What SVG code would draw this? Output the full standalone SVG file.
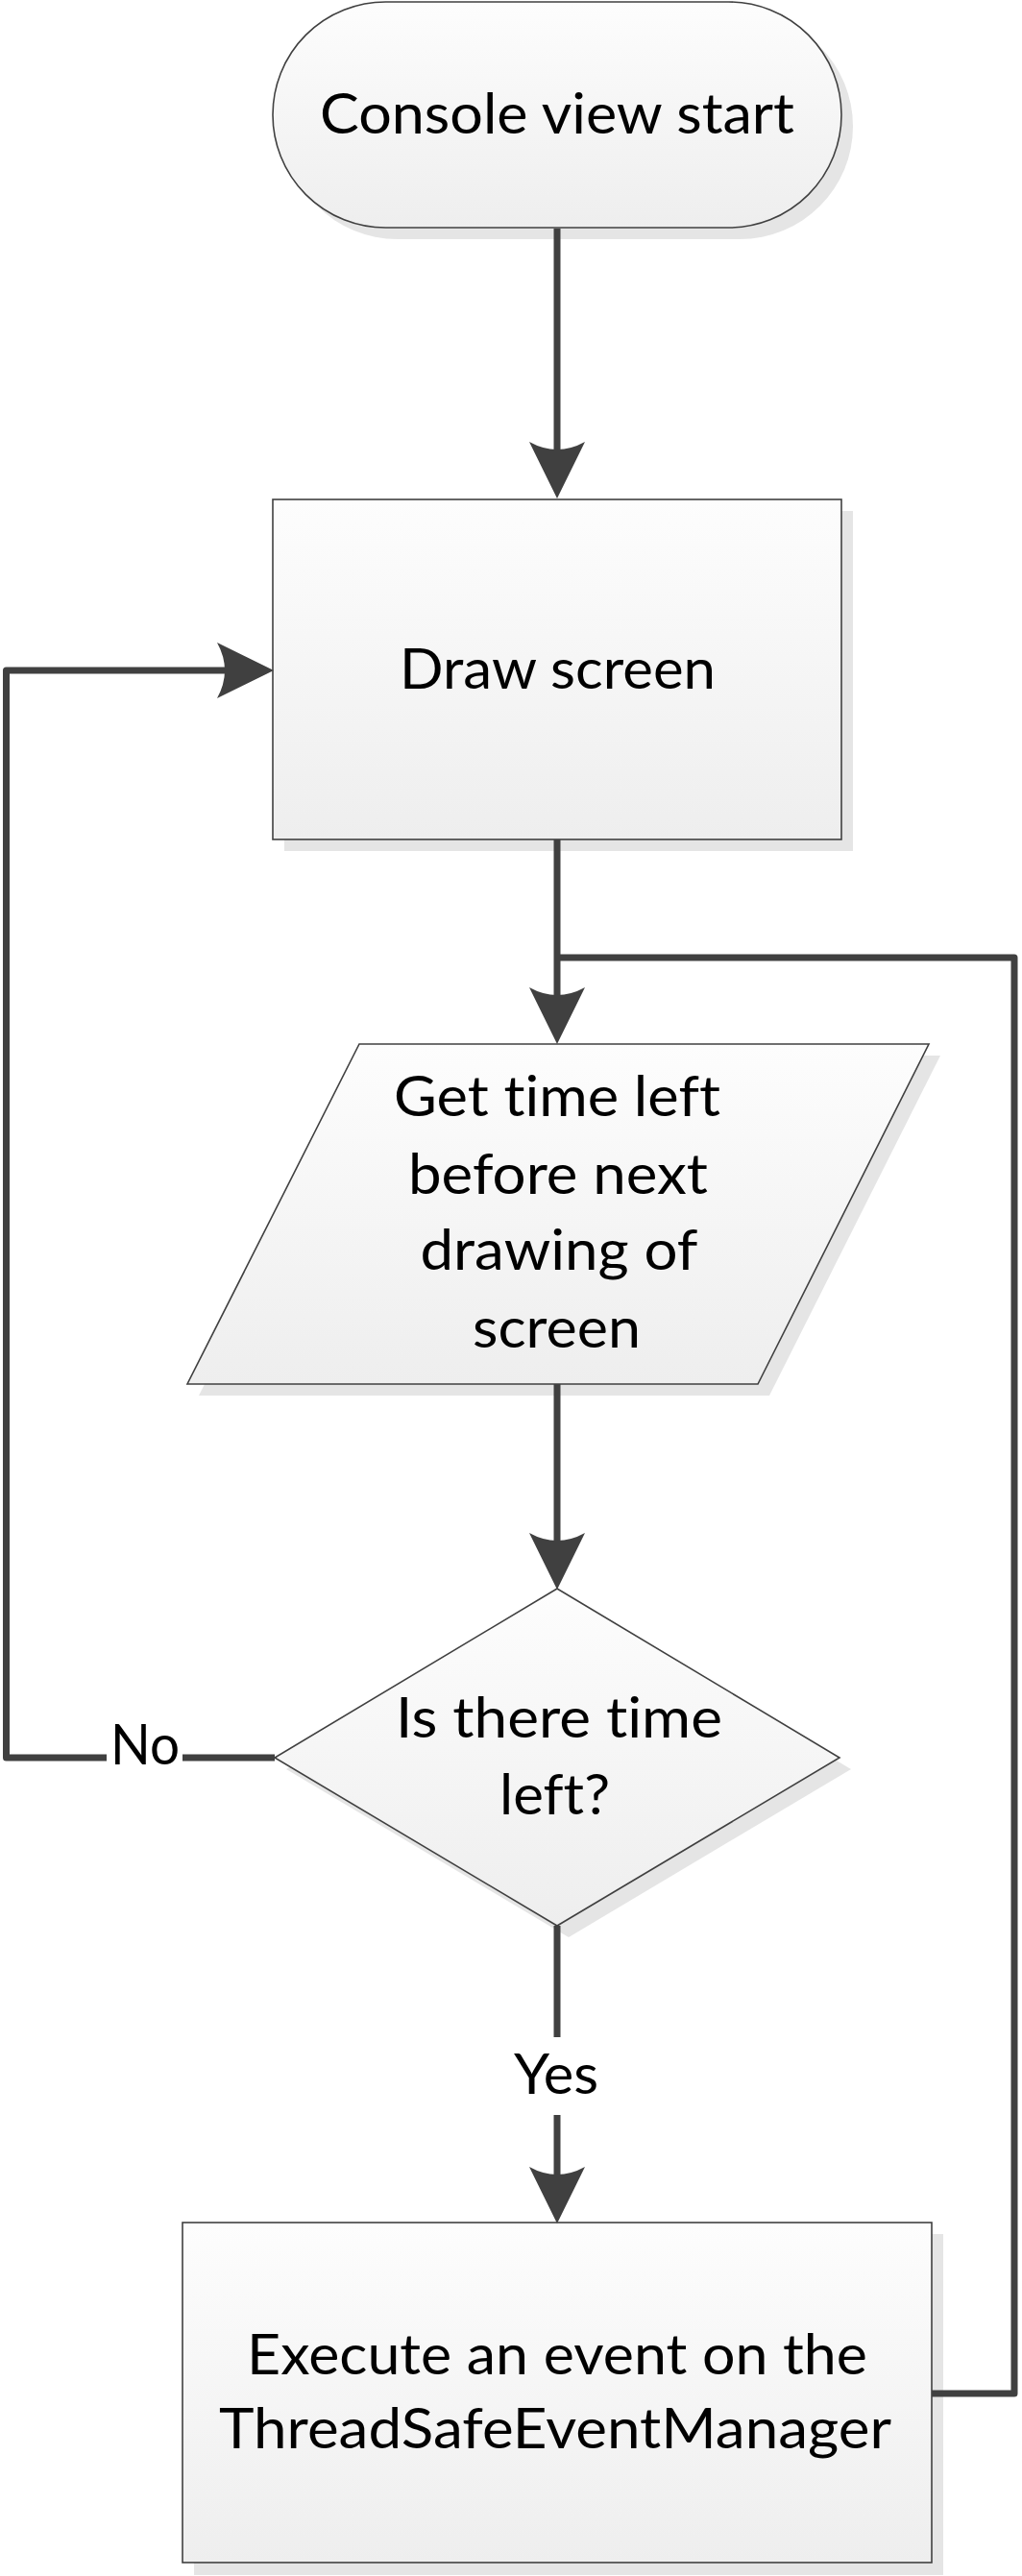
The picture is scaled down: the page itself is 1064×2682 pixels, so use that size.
<svg xmlns="http://www.w3.org/2000/svg" width="1064" height="2682" viewBox="0 0 1064 2682">
<defs>
<linearGradient id="fillGrad" x1="0" y1="0" x2="0" y2="1">
<stop offset="0" stop-color="#fdfdfd"/>
<stop offset="1" stop-color="#eeeeee"/>
</linearGradient>
<marker id="arrow" markerUnits="userSpaceOnUse" viewBox="0 -30 60 60" refX="19" refY="0" markerWidth="60" markerHeight="60" orient="auto">
<path d="M0,-29 Q16,0 0,29 L59,0 Z" fill="#404040"/>
</marker>
<style>
.shape{fill:url(#fillGrad);stroke:#404040;stroke-width:1.6}
.shadow{fill:#e5e5e5;stroke:none}
.conn{fill:none;stroke:#404040;stroke-width:7;stroke-linejoin:round}
.lbl{font-family:"Lato","Liberation Sans",sans-serif;font-size:58px;fill:#000;text-anchor:middle;font-variant-ligatures:none;font-feature-settings:"liga" 0}
</style>
</defs>
<rect width="1064" height="2682" fill="#ffffff"/>

<g id="node-start">
<rect class="shadow" x="296" y="14" width="592" height="235" rx="117.5" ry="117.5"/>
<rect class="shape" x="284" y="2" width="592" height="235" rx="117.5" ry="117.5"/>
<text class="lbl" x="580" y="139" textLength="494" lengthAdjust="spacingAndGlyphs">Console view start</text>
</g>

<g id="node-draw">
<rect class="shadow" x="296" y="532" width="592" height="354"/>
<rect class="shape" x="284" y="520" width="592" height="354"/>
<text class="lbl" x="580.5" y="717" textLength="329" lengthAdjust="spacingAndGlyphs">Draw screen</text>
</g>

<g id="node-gettime">
<polygon class="shadow" points="386,1099 979,1099 801,1453 207,1453"/>
<polygon class="shape" points="374,1087 967,1087 789,1441 195,1441"/>
<text class="lbl" x="580" y="1162" textLength="340" lengthAdjust="spacingAndGlyphs">Get time left</text>
<text class="lbl" x="581" y="1243" textLength="312" lengthAdjust="spacingAndGlyphs">before next</text>
<text class="lbl" x="582" y="1322" textLength="289" lengthAdjust="spacingAndGlyphs">drawing of</text>
<text class="lbl" x="579.5" y="1403" textLength="175" lengthAdjust="spacingAndGlyphs">screen</text>
</g>

<g id="node-decision">
<polygon class="shadow" points="592,1666 886,1842 592,2017 298,1842"/>
<polygon class="shape" points="580,1654 874,1830 580,2005 286,1830"/>
<text class="lbl" x="582" y="1809" textLength="340" lengthAdjust="spacingAndGlyphs">Is there time</text>
<text class="lbl" x="577.5" y="1889" textLength="115" lengthAdjust="spacingAndGlyphs">left?</text>
</g>

<g id="node-execute">
<rect class="shadow" x="202" y="2326" width="780" height="355"/>
<rect class="shape" x="190" y="2314" width="780" height="354"/>
<text class="lbl" x="580" y="2472" textLength="646" lengthAdjust="spacingAndGlyphs">Execute an event on the</text>
<text class="lbl" x="578" y="2549" textLength="700" lengthAdjust="spacingAndGlyphs">ThreadSafeEventManager</text>
</g>

<g id="connectors">
<path class="conn" d="M580,238 V479" marker-end="url(#arrow)"/>
<path class="conn" d="M580,874 V1047" marker-end="url(#arrow)"/>
<path class="conn" d="M970,2492 H1056 V997 H580"/>
<path class="conn" d="M580,1441 V1615" marker-end="url(#arrow)"/>
<path class="conn" d="M286,1830 H190"/>
<path class="conn" d="M111,1830 H6.5 V698 H245" marker-end="url(#arrow)"/>
<text class="lbl" x="151" y="1837" textLength="72" lengthAdjust="spacingAndGlyphs">No</text>
<path class="conn" d="M580,2005 V2121"/>
<path class="conn" d="M580,2202 V2275" marker-end="url(#arrow)"/>
<text class="lbl" x="579" y="2180" textLength="88" lengthAdjust="spacingAndGlyphs">Yes</text>
</g>
</svg>
